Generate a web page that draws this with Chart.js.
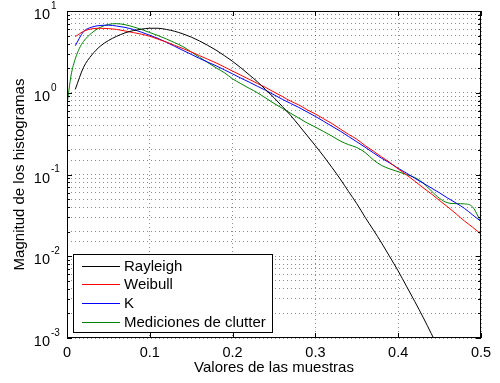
<!DOCTYPE html>
<html>
<head>
<meta charset="utf-8">
<script src="https://cdn.jsdelivr.net/npm/chart.js@4/dist/chart.umd.min.js"></script>
<style>
  html, body { margin: 0; padding: 0; background: #fff; }
</style>
</head>
<body>
<canvas id="chart" width="500" height="383"></canvas>
<script>
// sample positions (x) and histogram magnitudes
const xs = [0.01, 0.02, 0.03, 0.04, 0.05, 0.06, 0.07, 0.08, 0.09, 0.10,
            0.11, 0.12, 0.13, 0.14, 0.15, 0.16, 0.17, 0.18, 0.19, 0.20,
            0.21, 0.22, 0.23, 0.24, 0.25, 0.26, 0.27, 0.28, 0.29, 0.30,
            0.31, 0.32, 0.33, 0.34, 0.35, 0.36, 0.37, 0.38, 0.39, 0.40,
            0.41, 0.42, 0.43, 0.44, 0.45, 0.46, 0.47, 0.48, 0.49, 0.50];

const rayleigh = [1.1, 2.05, 2.9, 3.7, 4.35, 4.9, 5.4, 5.75, 6.0, 6.15,
                  6.15, 5.95, 5.65, 5.25, 4.8, 4.3, 3.8, 3.32, 2.85, 2.42,
                  2.02, 1.66, 1.36, 1.09, 0.87, 0.68, 0.53, 0.40, 0.30, 0.225,
                  0.167, 0.122, 0.088, 0.062, 0.044, 0.030, 0.021, 0.0145, 0.0098, 0.0066,
                  0.0043, 0.0028, 0.0018, 0.00113, 0.0007];

const weibull = [4.85, 5.65, 6.05, 6.15, 6.1, 5.95, 5.7, 5.45, 5.2, 4.9,
                 4.52, 4.17, 3.8, 3.47, 3.16, 2.85, 2.57, 2.32, 2.07, 1.84,
                 1.64, 1.46, 1.30, 1.16, 1.02, 0.90, 0.79, 0.71, 0.62, 0.55,
                 0.48, 0.42, 0.36, 0.31, 0.27, 0.226, 0.193, 0.164, 0.14, 0.117,
                 0.099, 0.083, 0.069, 0.058, 0.048, 0.040, 0.033, 0.027, 0.0226, 0.0186];

const kDist = [3.76, 5.6, 6.35, 6.65, 6.7, 6.55, 6.3, 5.95, 5.5, 5.05,
               4.62, 4.15, 3.7, 3.3, 2.95, 2.63, 2.37, 2.14, 1.91, 1.70,
               1.51, 1.35, 1.20, 1.07, 0.944, 0.832, 0.741, 0.661, 0.582, 0.513,
               0.447, 0.389, 0.339, 0.292, 0.251, 0.216, 0.184, 0.158, 0.138, 0.119,
               0.104, 0.090, 0.0785, 0.0684, 0.0596, 0.0513, 0.0447, 0.0385, 0.0320, 0.0266];

const clutterX = [0, 0.005, 0.01, 0.015, 0.02, 0.03, 0.04, 0.05, 0.06, 0.07, 0.08, 0.09, 0.10,
                  0.11, 0.12, 0.13, 0.14, 0.15, 0.16, 0.17, 0.18, 0.19, 0.20,
                  0.21, 0.22, 0.23, 0.24, 0.25, 0.26, 0.27, 0.28, 0.29, 0.30,
                  0.31, 0.32, 0.33, 0.34, 0.35, 0.36, 0.37, 0.38, 0.39, 0.40,
                  0.41, 0.42, 0.43, 0.44, 0.45, 0.46, 0.47, 0.48, 0.49, 0.50];
const clutter = [0.71, 1.65, 2.6, 3.5, 4.25, 5.4, 6.3, 6.85, 7.0, 6.8, 6.4, 5.95, 5.45,
                 5.0, 4.55, 4.1, 3.67, 3.16, 2.72, 2.34, 2.02, 1.76, 1.48,
                 1.29, 1.135, 1.0, 0.861, 0.741, 0.646, 0.562, 0.49, 0.427, 0.38,
                 0.335, 0.295, 0.257, 0.232, 0.214, 0.186, 0.151, 0.129, 0.117, 0.108,
                 0.1, 0.092, 0.079, 0.063, 0.051, 0.045, 0.044, 0.0437, 0.04, 0.026];

const seriesNames = ['Rayleigh', 'Weibull', 'K', 'Mediciones de clutter'];
const seriesColors = ['#000000', '#ff0000', '#0000ff', '#008000'];

const xTicks = [0, 0.1, 0.2, 0.3, 0.4, 0.5];
const yDecades = [0.001, 0.01, 0.1, 1, 10];
const yExponents = ['-3', '-2', '-1', '0', '1'];

const FONT = "'Liberation Sans', Arial, Helvetica, sans-serif";

function pts(xv, yv) {
    return yv.map((v, i) => ({ x: xv[i], y: v }));
}

function mkSet(i, data) {
    return {
        label: seriesNames[i],
        data: data,
        borderColor: seriesColors[i],
        backgroundColor: seriesColors[i],
        borderWidth: 1,
        pointRadius: 0,
        fill: false,
        cubicInterpolationMode: 'monotone',
        clip: 0
    };
}

// box, inward ticks, y labels with exponents, legend
const matlabFrame = {
    id: 'matlabFrame',
    afterDraw(chart) {
        const { ctx, chartArea: a, scales } = chart;
        const x = scales.x, y = scales.y;
        ctx.save();
        ctx.strokeStyle = '#000';
        ctx.lineWidth = 1;

        ctx.beginPath();
        xTicks.forEach(v => {
            const px = Math.round(x.getPixelForValue(v)) + 0.5;
            ctx.moveTo(px, a.bottom); ctx.lineTo(px, a.bottom - 5);
            ctx.moveTo(px, a.top); ctx.lineTo(px, a.top + 5);
        });
        yDecades.forEach(d => {
            const py = Math.round(y.getPixelForValue(d)) + 0.5;
            ctx.moveTo(a.left, py); ctx.lineTo(a.left + 5, py);
            ctx.moveTo(a.right, py); ctx.lineTo(a.right - 5, py);
            if (d < 10) {
                for (let k = 2; k <= 9; k++) {
                    const pm = Math.round(y.getPixelForValue(k * d)) + 0.5;
                    ctx.moveTo(a.left, pm); ctx.lineTo(a.left + 3, pm);
                    ctx.moveTo(a.right, pm); ctx.lineTo(a.right - 3, pm);
                }
            }
        });
        ctx.stroke();
        ctx.strokeRect(Math.round(a.left) + 0.5, Math.round(a.top) + 0.5,
                       Math.round(a.right - a.left) - 1, Math.round(a.bottom - a.top) - 1);

        // y tick labels: 10 with superscript exponent
        ctx.fillStyle = '#000';
        ctx.textBaseline = 'middle';
        yDecades.forEach((d, i) => {
            const py = y.getPixelForValue(d);
            ctx.font = '14.5px ' + FONT;
            ctx.textAlign = 'right';
            ctx.fillText('10', a.left - 17, py + 4);
            ctx.font = '10px ' + FONT;
            ctx.textAlign = 'left';
            ctx.fillText(yExponents[i], a.left - 16, py - 5);
        });

        // legend
        const lx = a.left + 6, ly = a.bottom - 84, lw = 199, lh = 78;
        ctx.fillStyle = '#fff';
        ctx.fillRect(lx, ly, lw, lh);
        ctx.strokeStyle = '#000';
        ctx.strokeRect(lx + 0.5, ly + 0.5, lw, lh);
        ctx.font = '15px ' + FONT;
        ctx.textAlign = 'left';
        ctx.textBaseline = 'middle';
        chart.data.datasets.forEach((ds, i) => {
            const yy = ly + 11.5 + i * 18.8;
            ctx.strokeStyle = ds.borderColor;
            ctx.beginPath();
            ctx.moveTo(lx + 9, Math.round(yy) + 0.5);
            ctx.lineTo(lx + 47, Math.round(yy) + 0.5);
            ctx.stroke();
            ctx.fillStyle = '#000';
            ctx.fillText(ds.label, lx + 51, yy + 1);
        });
        ctx.restore();
    }
};

new Chart(document.getElementById('chart'), {
    type: 'line',
    data: {
        datasets: [
            mkSet(0, pts(xs, rayleigh)),
            mkSet(1, pts(xs, weibull)),
            mkSet(2, pts(xs, kDist)),
            mkSet(3, pts(clutterX, clutter))
        ]
    },
    options: {
        responsive: false,
        animation: false,
        devicePixelRatio: 1,
        layout: { padding: { top: 11, right: 19, left: 0, bottom: 0 } },
        plugins: { legend: { display: false }, tooltip: { enabled: false } },
        scales: {
            x: {
                type: 'linear',
                min: 0,
                max: 0.5,
                afterBuildTicks: s => { s.ticks = xTicks.map(v => ({ value: v })); },
                afterFit: s => { s.height = 45; },
                grid: { color: 'rgba(0,0,0,0.45)', lineWidth: 1, drawTicks: false },
                border: { display: false, dash: [1, 3] },
                ticks: {
                    color: '#000',
                    padding: 6,
                    maxRotation: 0,
                    autoSkip: false,
                    font: { family: FONT, size: 14.5 },
                    callback: v => String(v)
                },
                title: {
                    display: true,
                    text: 'Valores de las muestras',
                    color: '#000',
                    font: { family: FONT, size: 15 },
                    padding: { top: 0, bottom: 6 }
                }
            },
            y: {
                type: 'logarithmic',
                min: 0.001,
                max: 10,
                afterFit: s => { s.width = 67; },
                grid: { color: 'rgba(0,0,0,0.45)', lineWidth: 1, drawTicks: false },
                border: { display: false, dash: [1, 3] },
                ticks: { display: false, autoSkip: false },
                title: {
                    display: true,
                    text: 'Magnitud de los histogramas',
                    color: '#000',
                    font: { family: FONT, size: 15 },
                    padding: { top: 11, bottom: 0 }
                }
            }
        }
    },
    plugins: [matlabFrame]
});
</script>
</body>
</html>
